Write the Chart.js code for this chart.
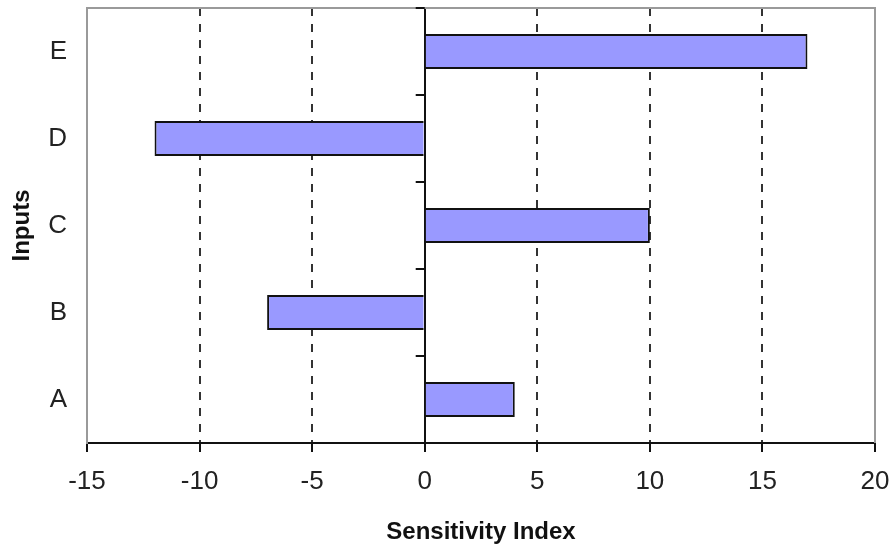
<!DOCTYPE html>
<html>
<head>
<meta charset="utf-8">
<script src="https://cdn.jsdelivr.net/npm/chart.js@4.4.1/dist/chart.umd.min.js"></script>
<style>
  html, body { margin: 0; padding: 0; background: #fff; }
  #wrap { width: 893px; height: 548px; }
</style>
</head>
<body>
<div id="wrap"><canvas id="myChart" width="893" height="548"></canvas></div>
<script>
const inputs = ["E", "D", "C", "B", "A"];
const sensitivity = [17, -12, 10, -7, 4];
const xMin = -15;
const xMax = 20;
const xStep = 5;

const font = "'Liberation Sans', Arial, sans-serif";

// grey frame on top / right, small ticks on the zero line
const framePlugin = {
    id: "frame",
    afterDatasetsDraw(chart) {
        const { ctx, chartArea: a, scales } = chart;
        const x0 = scales.x.getPixelForValue(0);
        ctx.save();
        ctx.strokeStyle = "#9a9a9a";
        ctx.lineWidth = 2;
        ctx.beginPath();
        ctx.moveTo(a.left, a.top);
        ctx.lineTo(a.right, a.top);
        ctx.lineTo(a.right, a.bottom);
        ctx.stroke();

        ctx.strokeStyle = "#111";
        ctx.beginPath();
        for (let i = 0; i <= inputs.length; i++) {
            const py = Math.round(scales.y.getPixelForValue(i - 0.5));
            ctx.moveTo(x0 - 9, py);
            ctx.lineTo(x0, py);
        }
        ctx.stroke();
        ctx.restore();
    }
};

const data = {
    labels: inputs,
    datasets: [
        {
            data: sensitivity,
            backgroundColor: "#9999ff",
            borderColor: "#111",
            borderWidth: 2,
            borderSkipped: "start",
            categoryPercentage: 1,
            barPercentage: 0.4,
        },
    ],
};

const options = {
    indexAxis: "y",
    responsive: false,
    animation: false,
    devicePixelRatio: 1,
    layout: { padding: { top: 8, right: 18, left: 0, bottom: 0 } },
    plugins: {
        legend: { display: false },
        tooltip: { enabled: false },
    },
    scales: {
        x: {
            type: "linear",
            min: xMin,
            max: xMax,
            ticks: {
                stepSize: xStep,
                color: "#222",
                padding: 14,
                font: { family: font, size: 26 },
            },
            grid: {
                color: (c) => {
                    const v = c.tick ? c.tick.value : null;
                    if (v === xMin || v === xMax) return "rgba(0,0,0,0)";
                    return v === 0 ? "#111" : "#333";
                },
                lineWidth: 2,
                tickColor: "#111",
                tickLength: 9,
                tickWidth: 2,
            },
            border: {
                color: "#111",
                width: 2,
                dash: (c) => (c.tick && c.tick.value === 0 ? [] : [8, 8]),
            },
            title: {
                display: true,
                text: "Sensitivity Index",
                color: "#111",
                font: { family: font, size: 24, weight: "bold" },
                padding: { top: 0, bottom: 1 },
            },
            afterFit: (scale) => {
                scale.height = 105;
                scale.paddingLeft = 0;
                scale.paddingRight = 0;
            },
        },
        y: {
            type: "category",
            grid: { display: false },
            border: { color: "#9a9a9a", width: 2 },
            ticks: {
                color: "#222",
                padding: 12,
                font: { family: font, size: 26 },
            },
            title: {
                display: true,
                text: "Inputs",
                color: "#111",
                font: { family: font, size: 24, weight: "bold" },
                padding: { top: 8, bottom: 0 },
            },
            afterFit: (scale) => {
                scale.width = 87;
                scale.paddingTop = 0;
                scale.paddingBottom = 0;
            },
        },
    },
};

new Chart("myChart", { type: "bar", data, options, plugins: [framePlugin] });
</script>
</body>
</html>
